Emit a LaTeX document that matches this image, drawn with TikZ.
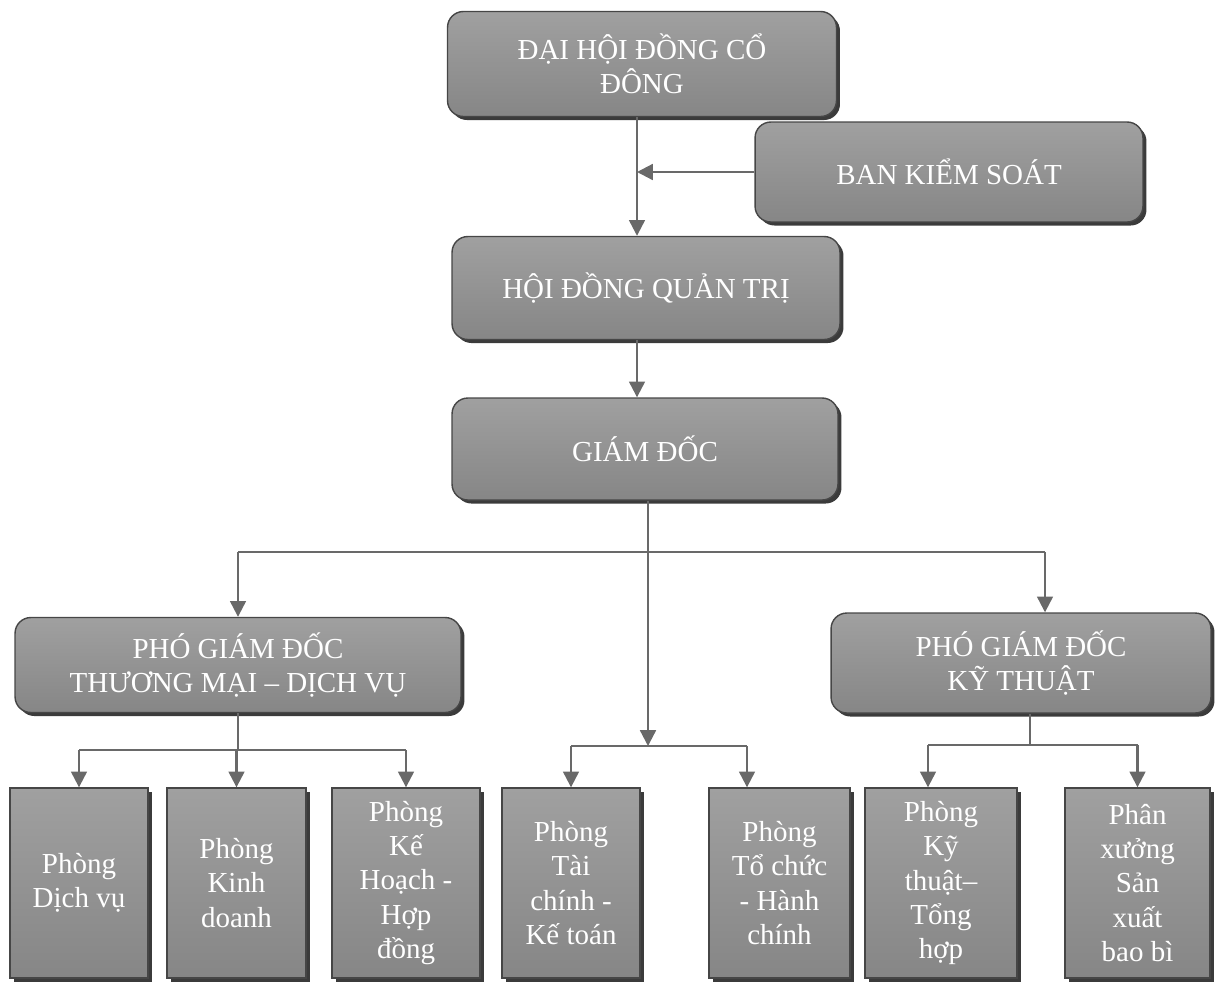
\documentclass[tikz,border=0pt]{standalone}
\usepackage{fontspec}
\setmainfont{Liberation Serif}
\usetikzlibrary{arrows.meta,shadows}
\definecolor{boxlight}{RGB}{178,178,178}
\definecolor{boxmid}{RGB}{160,160,160}
\definecolor{boxdark}{RGB}{134,134,134}
\definecolor{boxline}{RGB}{70,70,70}
\definecolor{wirecol}{RGB}{105,105,105}
\begin{document}
\begin{tikzpicture}[x=0.02cm,y=-0.02cm,
    box/.style={draw=boxline,line width=0.8pt,top color=boxmid,middle color=boxlight,bottom color=boxdark,
      text=white,align=center,inner sep=2pt,
      font=\fontsize{16.5}{19.5}\selectfont,
      drop shadow={shadow xshift=2pt,shadow yshift=-2pt,fill=black!85,opacity=0.9}},
    chief/.style={box,rounded corners=9pt},
    room/.style={box,minimum height=3.8cm},
    wire/.style={draw=wirecol,line width=1.3pt},
    link/.style={wire,-{Triangle[width=9pt,length=9pt]}}]
        \useasboundingbox (0,0) rectangle (1216,981);
        %% Nodes
        \node[chief,minimum width=7.78cm,minimum height=2.1cm] (dhcd) at (642,64) {ĐẠI HỘI ĐỒNG CỔ\\ĐÔNG};
        \node[chief,minimum width=7.76cm,minimum height=2cm] (bks) at (949,172) {BAN KIỂM SOÁT};
        \node[chief,minimum width=7.76cm,minimum height=2.06cm] (hdqt) at (646,288) {HỘI ĐỒNG QUẢN TRỊ};
        \node[chief,minimum width=7.72cm,minimum height=2.04cm] (gd) at (645,449) {GIÁM ĐỐC};
        \node[chief,minimum width=8.92cm,minimum height=1.9cm] (pgdtm) at (238,665) {PHÓ GIÁM ĐỐC\\THƯƠNG MẠI – DỊCH VỤ};
        \node[chief,minimum width=7.6cm,minimum height=2cm] (pgdkt) at (1021,663) {PHÓ GIÁM ĐỐC\\KỸ THUẬT};
        \node[room,minimum width=2.76cm] (dv) at (79,883) {Phòng\\Dịch vụ};
        \node[room,minimum width=2.78cm] (kd) at (236.5,883) {Phòng\\Kinh\\doanh};
        \node[room,minimum width=2.96cm] (kh) at (406,883) {Phòng\\Kế\\Hoạch -\\Hợp\\đồng};
        \node[room,minimum width=2.76cm] (tckt) at (571,883) {Phòng\\Tài\\chính -\\Kế toán};
        \node[room,minimum width=2.82cm] (tchc) at (779.5,883) {Phòng\\Tổ chức\\- Hành\\chính};
        \node[room,minimum width=3.04cm] (ktth) at (941,883) {Phòng\\Kỹ\\thuật–\\Tổng\\hợp};
        \node[room,minimum width=2.9cm] (px) at (1137.5,883) {Phân\\xưởng\\Sản\\xuất\\bao bì};
        %% Columns and buses
        \coordinate (spine) at (637,0);
        \coordinate (gdx) at (648,0);
        \coordinate (ktx) at (1045,0);
        \coordinate (hcx) at (747,0);
        \coordinate (pktx) at (1030,0);
        \coordinate (kthx) at (928,0);
        \coordinate (busgd) at (0,552);
        \coordinate (bustm) at (0,750);
        \coordinate (busmid) at (0,746);
        \coordinate (buskt) at (0,745);
        %% Lines
        \draw[link] (dhcd.south -| spine) -- (hdqt.north -| spine);
        \draw[link] (bks.west) -- (bks.west -| spine);
        \draw[link] (hdqt.south -| spine) -- (gd.north -| spine);
        \draw[link] (gd.south -| gdx) -- (busmid -| gdx);
        \draw[wire] (busgd -| pgdtm.north) -- (busgd -| ktx);
        \draw[link] (busgd -| pgdtm.north) -- (pgdtm.north);
        \draw[link] (busgd -| ktx) -- (pgdkt.north -| ktx);
        %% Thuong mai - dich vu
        \draw[wire] (pgdtm.south) -- (bustm -| pgdtm.south);
        \draw[wire] (bustm -| dv.north) -- (bustm -| kh.north);
        \foreach \r in {dv,kd,kh}
            \draw[link] (bustm -| \r.north) -- (\r.north);
        %% Giam doc truc tiep
        \draw[wire] (busmid -| tckt.north) -- (busmid -| hcx);
        \draw[link] (busmid -| tckt.north) -- (tckt.north);
        \draw[link] (busmid -| hcx) -- (tchc.north -| hcx);
        %% Ky thuat
        \draw[wire] (pgdkt.south -| pktx) -- (buskt -| pktx);
        \draw[wire] (buskt -| kthx) -- (buskt -| px.north);
        \draw[link] (buskt -| kthx) -- (ktth.north -| kthx);
        \draw[link] (buskt -| px.north) -- (px.north);
\end{tikzpicture}
\end{document}
